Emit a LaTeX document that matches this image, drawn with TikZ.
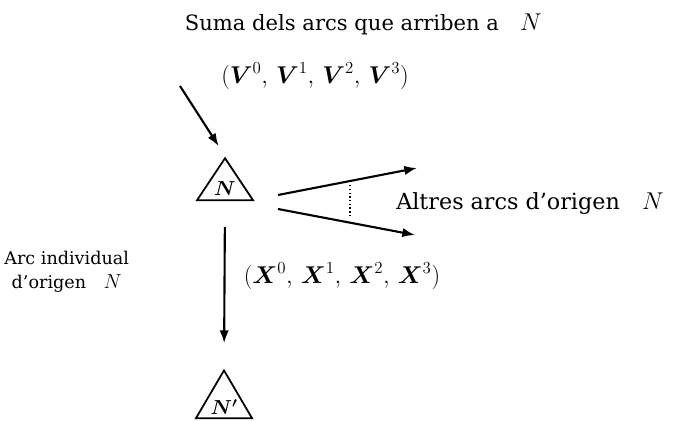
\documentclass[tikz,border=0pt]{standalone}
\usepackage{amsmath,amssymb}
\usepackage{fontspec}
\setmainfont{DejaVu Serif}
\usepackage{tikz}
\usetikzlibrary{arrows.meta,positioning,shapes.geometric}
\newcommand{\Nm}[1]{{\fontsize{#1}{#1}\selectfont$N$}}

\begin{document}
\begin{tikzpicture}[
  x=1cm,y=1cm,>={Latex[length=3.8mm,width=2.8mm]},
  lbl/.style={font=\fontsize{18}{20}\selectfont,inner sep=0pt,align=center},
  tuple/.style={font=\fontsize{21}{23}\selectfont,inner sep=0pt},
  tri/.style={draw,isosceles triangle,isosceles triangle stretches,
    shape border rotate=90,minimum width=1.68cm,minimum height=1.26cm,
    inner sep=0pt,line width=1.5pt,font=\fontsize{17}{18}\selectfont},
  arc/.style={->,line width=1.8pt}
]
\useasboundingbox (0,0) rectangle (20.55,12.6);
\node[lbl]   (title) at (10.9,11.88) {Suma dels arcs que arriben a\quad\Nm{22}};
\node[tuple] (vin)   at (9.45,10.32) {$(\boldsymbol{V}^0,\,\boldsymbol{V}^1,\,\boldsymbol{V}^2,\,\boldsymbol{V}^3)$};
\node[tri]   (N)     at (6.75,6.93) {$\boldsymbol{N}$};
\node[tri]   (Np)    at (6.72,0.38) {$\boldsymbol{N'}$};
\node[lbl,font=\fontsize{19}{21}\selectfont] (altres) at (15.9,6.48) {Altres arcs d'origen\quad\Nm{22}};
\node[lbl,font=\fontsize{15}{20}\selectfont] (indiv) at (2.0,4.45) {Arc individual\\d'origen\quad\Nm{19}};
\node[tuple] (xout)  at (10.26,4.32) {$(\boldsymbol{X}^0,\,\boldsymbol{X}^1,\,\boldsymbol{X}^2,\,\boldsymbol{X}^3)$};
% arc d'entrada
\coordinate (src) at (5.4,10.02);
\draw[arc,shorten >=0.35cm] (src) -- (N.apex);
% arc individual
\draw[arc,shorten <=0.78cm,shorten >=0.75cm] (N.lower side) -- (Np.apex);
% altres arcs
\coordinate (u0) at (8.34,6.75);
\coordinate (u1) at (12.51,7.56);
\coordinate (l0) at (8.34,6.33);
\coordinate (l1) at (12.45,5.55);
\draw[arc] (u0) -- (u1);
\draw[arc] (l0) -- (l1);
\draw[dotted,line width=1.2pt] (10.5,7.05) -- (10.5,6.09);
\end{tikzpicture}
\end{document}
